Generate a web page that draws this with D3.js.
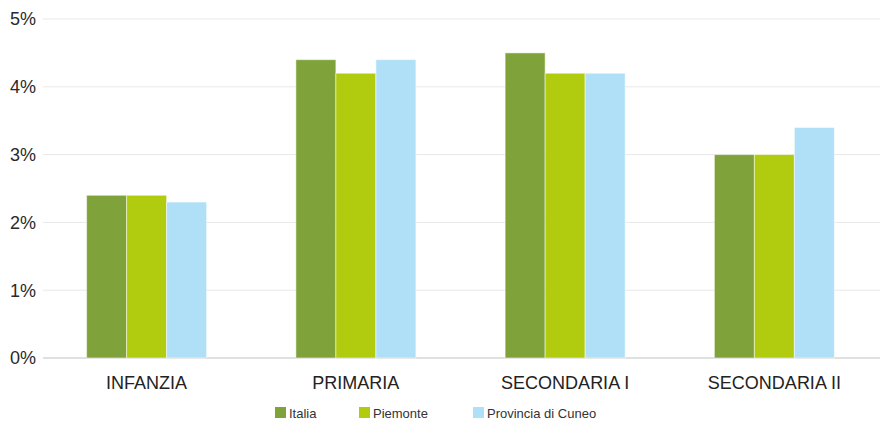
<!DOCTYPE html>
<html><head><meta charset="utf-8">
<script src="https://cdn.jsdelivr.net/npm/d3@7"></script>
<style>body{margin:0;background:#fff;}svg{display:block;font-family:"Liberation Sans",Arial,sans-serif;}</style>
</head><body>
<svg id="c" width="881" height="424"></svg>
<script>
const categories = ["INFANZIA","PRIMARIA","SECONDARIA I","SECONDARIA II"];
const seriesNames = ["Italia","Piemonte","Provincia di Cuneo"];
const italia = [2.4,4.4,4.5,3.0];
const piemonte = [2.4,4.2,4.2,3.0];
const cuneo = [2.3,4.4,4.2,3.4];
const yTicks = [0,1,2,3,4,5];
const colors = ["#7fa33a","#b1cb0e","#b0dff8"];

(function(){
const series = [italia, piemonte, cuneo];
const svg = d3.select("#c");
const mLeft = 42, mRight = 879, mTop = 19, mBottom = 358;
const x0 = d3.scaleBand().domain(categories).range([mLeft,mRight]).paddingInner(0).paddingOuter(0);
const groupW = 120;
const x1 = d3.scaleBand().domain(seriesNames).range([0,groupW]);
const y = d3.scaleLinear().domain([0,5]).range([mBottom,mTop]);

svg.append("g").selectAll("line").data(yTicks).join("line")
  .attr("x1",43).attr("x2",880)
  .attr("y1",d=>y(d)).attr("y2",d=>y(d))
  .attr("stroke",d=>d===0?"#e0e0e0":"#e8e8e8").attr("stroke-width",d=>d===0?2:1);

svg.append("g").selectAll("text").data(yTicks).join("text")
  .attr("x",36).attr("y",d=>y(d)).attr("dy","0.36em").attr("text-anchor","end")
  .attr("font-size",18).attr("fill","#2a2a2a").text(d=>d+"%");

const g = svg.append("g");
categories.forEach((c,i)=>{
  const gx = x0(c) + x0.bandwidth()/2 - groupW/2;
  g.selectAll(null).data(series.map((s,j)=>({name:seriesNames[j],v:s[i],j}))).join("rect")
    .attr("x",d=>gx + x1(d.name)).attr("width",x1.bandwidth())
    .attr("y",d=>y(d.v)).attr("height",d=>y(0)-y(d.v))
    .attr("fill",d=>colors[d.j]).attr("stroke","#fff").attr("stroke-opacity",0.5).attr("stroke-width",1);
});

svg.append("g").selectAll("text").data(categories).join("text")
  .attr("x",d=>x0(d)+x0.bandwidth()/2).attr("y",383).attr("dy","0.36em")
  .attr("text-anchor","middle").attr("font-size",18).attr("fill","#222").text(d=>d);

const legX = [275,359,473];
const leg = svg.append("g").selectAll("g").data(seriesNames).join("g")
  .attr("transform",(d,i)=>`translate(${legX[i]},407)`);
leg.append("rect").attr("width",11).attr("height",11).attr("fill",(d,i)=>colors[i]);
leg.append("text").attr("x",14).attr("y",6).attr("dy","0.36em").attr("font-size",13).attr("fill","#333").text(d=>d);
})();
</script>
</body></html>
